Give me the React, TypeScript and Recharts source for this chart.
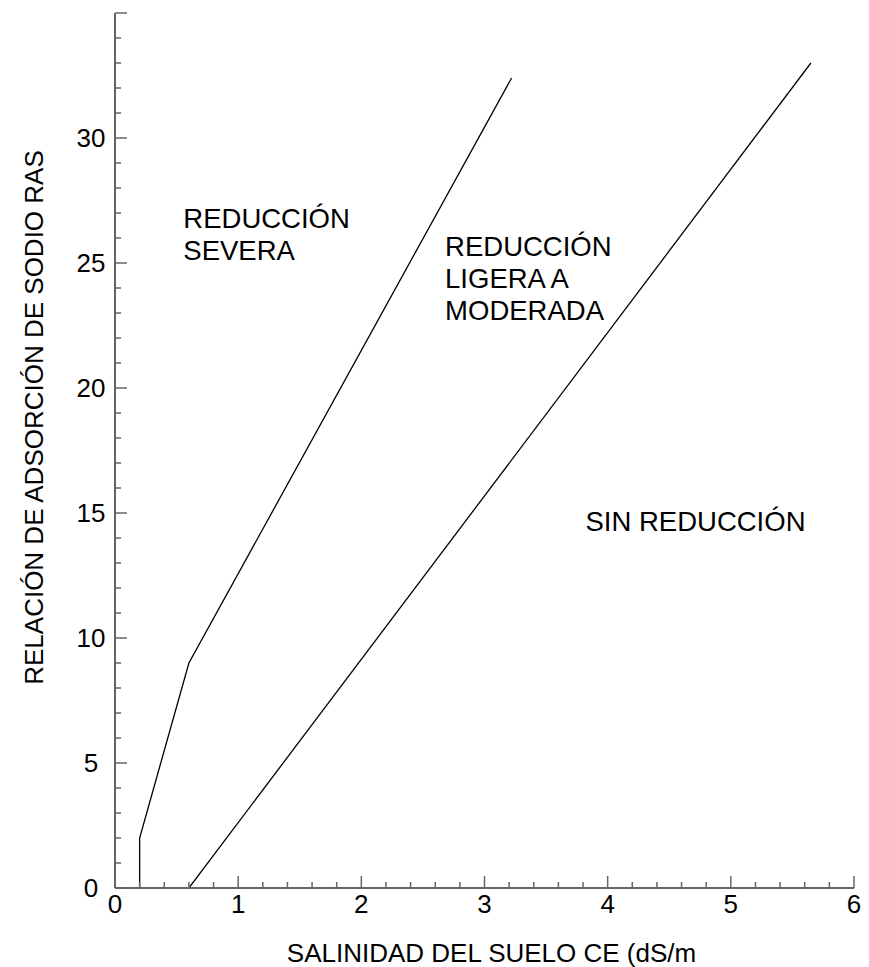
import React from 'react';
import { ComposedChart, Line, Scatter, XAxis, YAxis } from 'recharts';

// Boundary between "severe" and "slight to moderate" reduction (CE dS/m, RAS)
const severeBoundary = [
  { ce: 0.2, ras: 0 },
  { ce: 0.2, ras: 2 },
  { ce: 0.6, ras: 9 },
  { ce: 3.22, ras: 32.4 },
];

// Boundary between "slight to moderate" and "no reduction"
const noReductionBoundary = [
  { ce: 0.6, ras: 0 },
  { ce: 5.65, ras: 33 },
];

const xTicks = [0, 0.2, 0.4, 0.6, 0.8, 1, 1.2, 1.4, 1.6, 1.8, 2, 2.2, 2.4, 2.6, 2.8, 3, 3.2, 3.4, 3.6, 3.8, 4, 4.2, 4.4, 4.6, 4.8, 5, 5.2, 5.4, 5.6, 5.8, 6];
const xTickLabels = ['0', '1', '2', '3', '4', '5', '6'];
const yTicks = [0, 1, 2, 3, 4, 5, 6, 7, 8, 9, 10, 11, 12, 13, 14, 15, 16, 17, 18, 19, 20, 21, 22, 23, 24, 25, 26, 27, 28, 29, 30, 31, 32, 33, 34, 35];
const yTickLabels = ['0', '5', '10', '15', '20', '25', '30'];

const regionLabels = [
  { ce: 0.555, ras: 26.4, lines: ['REDUCCIÓN', 'SEVERA'] },
  { ce: 2.68, ras: 25.3, lines: ['REDUCCIÓN', 'LIGERA A', 'MODERADA'] },
  { ce: 3.82, ras: 14.3, lines: ['SIN REDUCCIÓN'] },
];

const xAxisTitle = 'SALINIDAD DEL SUELO CE (dS/m';
const yAxisTitle = 'RELACIÓN DE ADSORCIÓN DE SODIO RAS';

const FONT = '"Liberation Sans", Arial, Helvetica, sans-serif';
const AXIS = '#666666';
const FS = 26;
const REGION_FS = 27.5;

const isMajorX = (v: number) => Math.abs(v - Math.round(v)) < 1e-6;
const isMajorY = (v: number) => Math.abs(v / 5 - Math.round(v / 5)) < 1e-6;

const XTick = (props: any) => {
  const { x, y, payload } = props;
  const v = payload.value as number;
  const major = isMajorX(v);
  const label = major ? xTickLabels.find((t) => Number(t) === Math.round(v)) : undefined;
  return (
    <g>
      <line x1={x} y1={y} x2={x} y2={y - (major ? 12 : 6)} stroke={AXIS} strokeWidth={1.5} />
      {label !== undefined && (
        <text x={x} y={y + 25} textAnchor="middle" fontSize={FS} fontFamily={FONT} fill="#000">
          {label}
        </text>
      )}
    </g>
  );
};

const YTick = (props: any) => {
  const { x, y, payload } = props;
  const v = payload.value as number;
  const major = isMajorY(v);
  const label = major ? yTickLabels.find((t) => Number(t) === Math.round(v)) : undefined;
  return (
    <g>
      <line x1={x} y1={y} x2={x + (major ? 12 : 6)} y2={y} stroke={AXIS} strokeWidth={1.5} />
      {label !== undefined && (
        <text x={x - 24} y={y + 9} textAnchor="middle" fontSize={FS} fontFamily={FONT} fill="#000">
          {label}
        </text>
      )}
    </g>
  );
};

const RegionText = (props: any) => {
  const { cx, cy, payload } = props;
  if (cx == null || cy == null) return null;
  return (
    <text x={cx} y={cy} fontSize={REGION_FS} fontFamily={FONT} fill="#000">
      {(payload.lines as string[]).map((l, i) => (
        <tspan key={i} x={cx} dy={i === 0 ? 0 : 32}>
          {l}
        </tspan>
      ))}
    </text>
  );
};

const XTitle = (props: any) => {
  const vb = props.viewBox || {};
  const cx = vb.x + vb.width / 2 + 7;
  const y = vb.y + 74;
  return (
    <text x={cx} y={y} textAnchor="middle" fontSize={FS} fontFamily={FONT} fill="#000">
      {xAxisTitle}
    </text>
  );
};

const YTitle = (props: any) => {
  const vb = props.viewBox || {};
  const x = 43;
  const y = vb.y + vb.height / 2 - 33;
  return (
    <text
      x={x}
      y={y}
      textAnchor="middle"
      fontSize={FS}
      fontFamily={FONT}
      fill="#000"
      transform={`rotate(-90, ${x}, ${y})`}
    >
      {yAxisTitle}
    </text>
  );
};

export default function App() {
  return (
    <div style={{ position: 'absolute', left: 0, top: 0, width: 869, height: 967, background: '#fff' }}>
      <ComposedChart
        width={869}
        height={967}
        margin={{ top: 13, right: 15, bottom: 0, left: 0 }}
      >
        <XAxis
          type="number"
          dataKey="ce"
          domain={[0, 6]}
          ticks={xTicks}
          interval={0}
          allowDataOverflow
          height={79}
          tickSize={0}
          tickMargin={0}
          tickLine={false}
          axisLine={{ stroke: AXIS, strokeWidth: 2 }}
          tick={<XTick />}
          label={{ content: <XTitle /> }}
        />
        <YAxis
          type="number"
          dataKey="ras"
          domain={[0, 35]}
          ticks={yTicks}
          interval={0}
          allowDataOverflow
          width={115}
          tickSize={0}
          tickMargin={0}
          tickLine={false}
          axisLine={{ stroke: AXIS, strokeWidth: 2 }}
          tick={<YTick />}
          label={{ content: <YTitle /> }}
        />
        <Line
          data={severeBoundary}
          dataKey="ras"
          type="linear"
          stroke="#000"
          strokeWidth={1.3}
          dot={false}
          activeDot={false}
          isAnimationActive={false}
        />
        <Line
          data={noReductionBoundary}
          dataKey="ras"
          type="linear"
          stroke="#000"
          strokeWidth={1.3}
          dot={false}
          activeDot={false}
          isAnimationActive={false}
        />
        <Scatter
          data={regionLabels}
          dataKey="ras"
          shape={<RegionText />}
          isAnimationActive={false}
        />
      </ComposedChart>
    </div>
  );
}
